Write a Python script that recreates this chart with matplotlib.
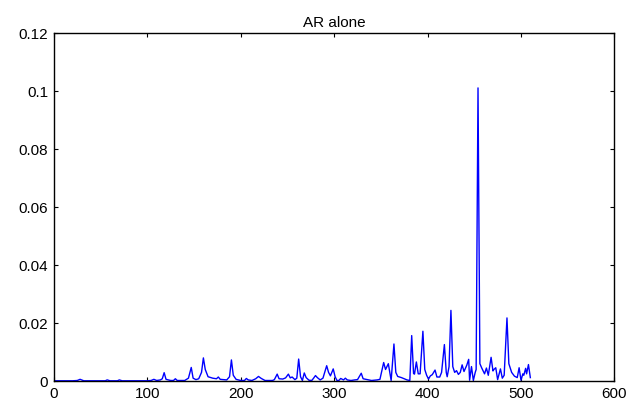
import matplotlib
matplotlib.use("Agg")
import matplotlib.pyplot as plt

# sample index / power values (peaks and troughs)
x = [0, 20, 25, 28, 32, 55, 57, 60, 68, 70, 73, 100, 104, 107, 110, 114,
     116, 118, 120, 125, 128, 130, 132, 140, 144, 147, 149, 152, 155, 158,
     160, 162, 165, 170, 174, 176, 178, 185, 188, 190, 192, 195, 200, 204,
     206, 208, 212, 216, 219, 222, 226, 230, 234, 236, 239, 241, 245, 248,
     251, 253, 255, 258, 260, 262, 264, 266, 268, 270, 273, 276, 278, 280,
     282, 285, 288, 292, 294, 296, 299, 301, 303, 305, 307, 310, 312, 314,
     318, 322, 325, 329, 331, 334, 337, 340, 343, 346, 349, 351, 353, 355,
     358, 361, 364, 366, 368, 372, 375, 378, 381, 383, 385, 386, 388, 390,
     392, 395, 397, 399, 401, 403, 405, 408, 410, 413, 415, 418, 420, 421,
     423, 425, 427, 429, 431, 433, 435, 437, 439, 442, 444, 445, 447, 449,
     451, 452, 454, 456, 458, 461, 463, 465, 468, 470, 471, 473, 475, 478,
     480, 482, 485, 487, 490, 493, 496, 498, 500, 502, 503, 505, 506, 508,
     510]
y = [0.0001, 0.0001, 0.0002, 0.0006, 0.0001, 0.0001, 0.0004, 0.0001,
     0.0001, 0.0004, 0.0001, 0.0001, 0.0002, 0.0006, 0.0002, 0.0004,
     0.0008, 0.0029, 0.0006, 0.0002, 0.0002, 0.0008, 0.0002, 0.0002,
     0.0010, 0.0047, 0.0010, 0.0005, 0.0008, 0.0030, 0.0080, 0.0040,
     0.0015, 0.0010, 0.0008, 0.0014, 0.0006, 0.0004, 0.0015, 0.0073,
     0.0020, 0.0006, 0.0002, 0.0002, 0.0009, 0.0004, 0.0002, 0.0008,
     0.0016, 0.0009, 0.0002, 0.0002, 0.0002, 0.0005, 0.0024, 0.0008,
     0.0007, 0.0011, 0.0024, 0.0011, 0.0014, 0.0005, 0.0010, 0.0076,
     0.0015, 0.0002, 0.0028, 0.0012, 0.0003, 0.0002, 0.0010, 0.0019,
     0.0012, 0.0004, 0.0010, 0.0053, 0.0030, 0.0018, 0.0042, 0.0015,
     0.0002, 0.0002, 0.0009, 0.0004, 0.0010, 0.0004, 0.0002, 0.0004,
     0.0005, 0.0027, 0.0008, 0.0006, 0.0004, 0.0002, 0.0003, 0.0004,
     0.0006, 0.0035, 0.0064, 0.0040, 0.0060, 0.0002, 0.0128, 0.0030,
     0.0016, 0.0012, 0.0008, 0.0004, 0.0002, 0.0157, 0.0026, 0.0024,
     0.0066, 0.0025, 0.0025, 0.0172, 0.0040, 0.0020, 0.0007, 0.0018,
     0.0022, 0.0038, 0.0014, 0.0014, 0.0030, 0.0126, 0.0030, 0.0015,
     0.0050, 0.0244, 0.0050, 0.0030, 0.0036, 0.0023, 0.0030, 0.0056,
     0.0033, 0.0055, 0.0075, 0.0003, 0.0050, 0.0002, 0.0030, 0.0040,
     0.1012, 0.0060, 0.0045, 0.0025, 0.0045, 0.0020, 0.0082, 0.0035,
     0.0040, 0.0046, 0.0005, 0.0042, 0.0010, 0.0020, 0.0218, 0.0060,
     0.0030, 0.0017, 0.0012, 0.0046, 0.0003, 0.0025, 0.0020, 0.0044,
     0.0025, 0.0057, 0.0012]

XTICKS = [0, 100, 200, 300, 400, 500, 600]
YTICKS = [0, 0.02, 0.04, 0.06, 0.08, 0.1, 0.12]
YLABELS = ['0', '0.02', '0.04', '0.06', '0.08', '0.1', '0.12']


def main():
    plt.rcParams['font.family'] = ['Liberation Sans', 'DejaVu Sans']
    fig = plt.figure(figsize=(6.42, 4.08), dpi=100)
    ax = fig.add_axes([0.084, 0.066, 0.873, 0.852])

    ax.plot(x, y, color='#0000ff', linewidth=1.0)

    ax.set_xlim(0, 600)
    ax.set_ylim(0, 0.12)
    ax.set_xticks(XTICKS)
    ax.set_yticks(YTICKS)
    ax.set_yticklabels(YLABELS)
    ax.tick_params(direction='in', top=True, right=True, length=3,
                   width=0.8, labelsize=11, pad=4)
    for s in ax.spines.values():
        s.set_linewidth(1.0)
    ax.set_title("AR alone", fontsize=11, pad=5)

    fig.savefig("out.png", dpi=100)


if __name__ == '__main__':
    main()
